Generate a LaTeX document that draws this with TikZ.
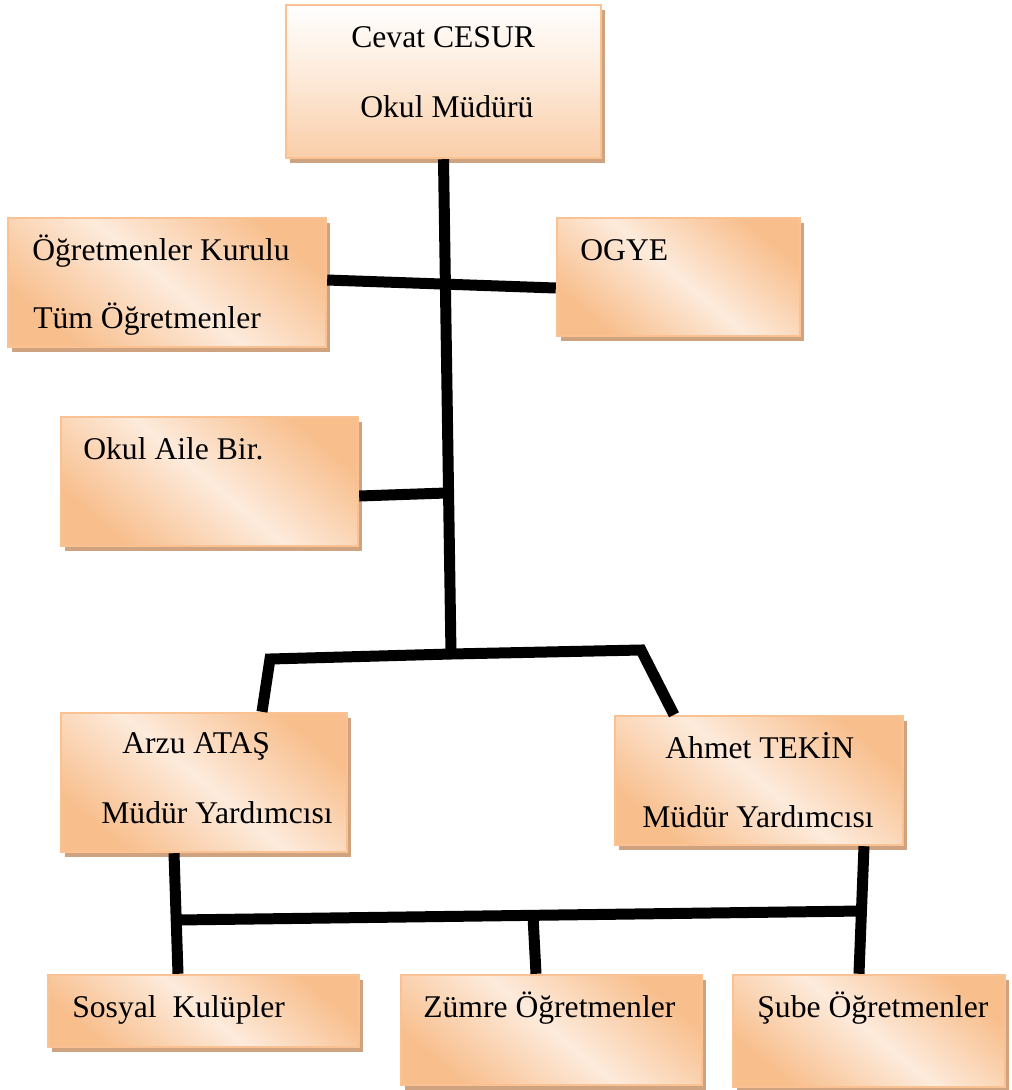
\documentclass[tikz,border=0pt]{standalone}
\usepackage{fontspec}
\setmainfont{Liberation Serif}
\usetikzlibrary{shadows}
\definecolor{peach}{RGB}{248,190,140}
\definecolor{peachlight}{RGB}{253,235,220}
\definecolor{rim}{RGB}{250,193,146}
\definecolor{shadowtan}{RGB}{207,163,128}
\tikzset{
  box/.style={draw=rim, line width=1.4pt, inner sep=0pt,
    top color=peach, bottom color=peach, middle color=peachlight, shading angle=-40,
    drop shadow={fill=shadowtan, opacity=1, shadow xshift=2.3pt, shadow yshift=-2.8pt}},
  headbox/.style={box, top color=white, bottom color=peach!75, middle color=peach!35, shading angle=0},
  lbl/.style={anchor=base west, inner sep=0pt, font=\fontsize{18}{22}\selectfont},
  bar/.style={line width=0.22cm}
}
\begin{document}
\begin{tikzpicture}[x=0.02cm, y=-0.02cm]
	\useasboundingbox (0,0) rectangle (1012,1090);
	% kutular
	\node[headbox, minimum width=6.30cm, minimum height=3.06cm] (chief) at (443.5,81.5) {};
	\node[box, minimum width=6.36cm, minimum height=2.58cm] (kurul) at (167,282.5) {};
	\node[box, minimum width=4.86cm, minimum height=2.36cm] (ogye) at (678.5,277) {};
	\node[box, minimum width=5.94cm, minimum height=2.58cm] (veli) at (209.5,481.5) {};
	\node[box, minimum width=5.72cm, minimum height=2.78cm] (mya) at (204,782.5) {};
	\node[box, minimum width=5.76cm, minimum height=2.58cm] (myb) at (759,780.5) {};
	\node[box, minimum width=6.22cm, minimum height=1.44cm] (sosyal) at (203.5,1011) {};
	\node[box, minimum width=6.02cm, minimum height=2.20cm] (zumre) at (551.5,1030) {};
	\node[box, minimum width=5.44cm, minimum height=2.24cm] (sube) at (869,1031) {};
	% yazilar
	\node[lbl] (chief1) at (351,47) {Cevat CESUR};
	\node[lbl] (chief2) at (360,117) {Okul Müdürü};
	\node[lbl] (kurul1) at (32,260) {Öğretmenler Kurulu};
	\node[lbl] (kurul2) at (33,328) {Tüm Öğretmenler};
	\node[lbl] (ogye1) at (580,260) {OGYE};
	\node[lbl] (veli1) at (83,459) {Okul Aile Bir.};
	\node[lbl] (mya1) at (122,753) {Arzu ATAŞ};
	\node[lbl] (mya2) at (101,823) {Müdür Yardımcısı};
	\node[lbl] (myb1) at (665,758) {Ahmet TEKİN};
	\node[lbl] (myb2) at (642,827) {Müdür Yardımcısı};
	\node[lbl] (sosyal1) at (72,1017) {Sosyal\ \ Kulüpler};
	\node[lbl] (zumre1) at (423,1017) {Zümre Öğretmenler};
	\node[lbl] (sube1) at (757,1017) {Şube Öğretmenler};
	% baglantilar
	\coordinate (hub) at (451,654);
	\coordinate (vj) at (446,493);
	\coordinate (la) at (270,659);
	\coordinate (ra) at (641,650);
	\coordinate (lb) at (177,920);
	\coordinate (mb) at (533,916);
	\coordinate (rb) at (862,911);
	\draw[bar] (chief.south) -- (hub);
	\draw[bar] (kurul.east |- 0,280) -- (ogye.west |- 0,288);
	\draw[bar] (veli.east |- 0,496) -- (vj);
	\draw[bar] (mya.north -| 262,0) -- (la) -- (hub) -- (ra) -- (myb.north -| 674,0);
	\draw[bar] (mya.south -| 174,0) -- (sosyal.north -| 178,0);
	\draw[bar] (lb) -- (rb);
	\draw[bar] (mb) -- (zumre.north -| 536,0);
	\draw[bar] (myb.south -| 864,0) -- (sube.north -| 859,0);
\end{tikzpicture}
\end{document}
